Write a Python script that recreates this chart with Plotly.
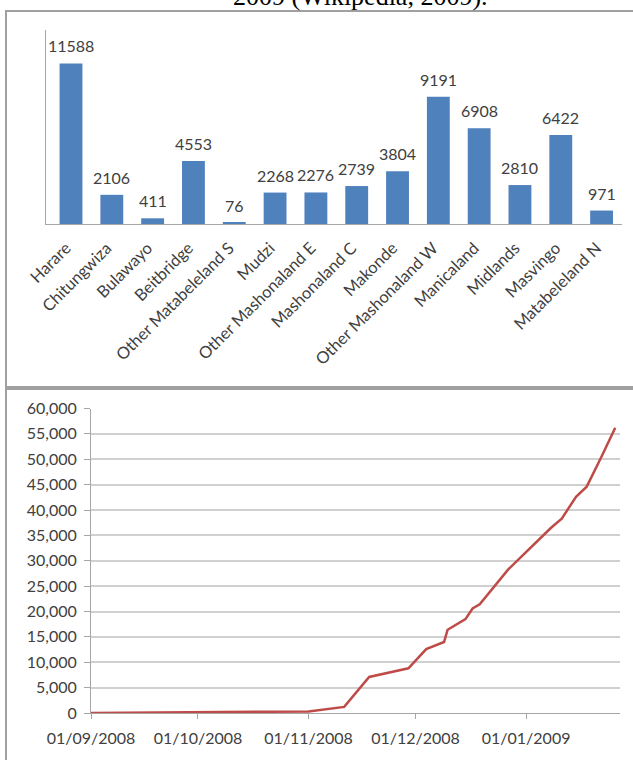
import plotly.graph_objects as go

# ---- data ----
regions = ["Harare", "Chitungwiza", "Bulawayo", "Beitbridge", "Other Matabeleland S",
           "Mudzi", "Other Mashonaland E", "Mashonaland C", "Makonde",
           "Other Mashonaland W", "Manicaland", "Midlands", "Masvingo", "Matabeleland N"]
cases = [11588, 2106, 411, 4553, 76, 2268, 2276, 2739, 3804, 9191, 6908, 2810, 6422, 971]

dates = ["2008-09-01", "2008-10-01", "2008-10-20", "2008-11-01", "2008-11-11",
         "2008-11-18", "2008-11-29", "2008-12-04", "2008-12-09", "2008-12-10",
         "2008-12-15", "2008-12-17", "2008-12-19", "2008-12-27", "2009-01-08",
         "2009-01-10", "2009-01-11", "2009-01-15", "2009-01-18", "2009-01-22",
         "2009-01-26"]
cumulative = [0, 80, 200, 300, 1200,
              7100, 8800, 12600, 14000, 16400,
              18500, 20600, 21400, 28300, 36500,
              37600, 38300, 42600, 44600, 50300,
              56200]

month_ticks = ["2008-09-01", "2008-10-01", "2008-11-01", "2008-12-01", "2009-01-01"]
month_labels = ["01/09/2008", "01/10/2008", "01/11/2008", "01/12/2008", "01/01/2009"]

W, H = 633, 760
def px(x):
    return x / W
def py(y):
    return 1 - y / H

FONT = "Lato"
TXT = "#404040"
AX = "#A6A6A6"

fig = go.Figure()
fig.add_trace(go.Bar(x=regions, y=cases, marker_color="#4F81BD", marker_line_width=0,
                     width=0.56, xaxis="x", yaxis="y", hoverinfo="x+y"))
for r, c in zip(regions, cases):
    fig.add_annotation(x=r, y=c, xref="x", yref="y", text=str(c), showarrow=False,
                       yanchor="bottom", yshift=6,
                       font=dict(family=FONT, size=16, color=TXT))

fig.add_trace(go.Scatter(x=dates, y=cumulative, mode="lines",
                         line=dict(color="#BE4B48", width=2.5),
                         xaxis="x2", yaxis="y2"))

# frames
fig.add_shape(type="rect", xref="paper", yref="paper", x0=px(6), x1=px(650),
              y0=py(387), y1=py(11), line=dict(color="#A0A0A0", width=2), layer="below")
fig.add_shape(type="rect", xref="paper", yref="paper", x0=px(6), x1=px(650),
              y0=py(780), y1=py(389), line=dict(color="#A0A0A0", width=2), layer="below")

fig.add_annotation(xref="paper", yref="paper", x=px(360), y=py(12.5), text="2009 (Wikipedia, 2009).",
                   showarrow=False, yanchor="bottom", xanchor="center",
                   font=dict(family="Liberation Serif", size=26, color="#000000"))

fig.update_layout(
    width=W, height=H, margin=dict(l=0, r=0, t=0, b=0),
    paper_bgcolor="white", plot_bgcolor="white", showlegend=False,
    bargap=0.44,
    xaxis=dict(domain=[px(46), px(622)], anchor="y", showline=True, linecolor=AX, linewidth=1,
               tickangle=-45, tickfont=dict(family=FONT, size=16.5, color=TXT), ticks="",
               showgrid=False, automargin=False, fixedrange=True,
               ticklabelstandoff=7, ticklabelshift=-5),
    yaxis=dict(domain=[py(224), py(30)], range=[0, 14000], showticklabels=False, showline=True,
               linecolor=AX, linewidth=1, showgrid=False, zeroline=False, ticks="",
               automargin=False),
    xaxis2=dict(type="date", domain=[px(91), px(620)], anchor="y2",
                range=["2008-09-01", "2009-01-27 08:00"],
                tickmode="array", tickvals=month_ticks, ticktext=month_labels,
                ticks="outside", ticklen=5, tickcolor=AX, showline=True, linecolor=AX, linewidth=1,
                showgrid=False, tickfont=dict(family=FONT, size=16, color=TXT),
                ticklabelstandoff=6, automargin=False),
    yaxis2=dict(domain=[py(713), py(408.5)], range=[0, 60000], dtick=5000, tickformat=",",
                showgrid=True, gridcolor="#D0D0D0", gridwidth=1.5, showline=True, linecolor=AX,
                linewidth=1, ticks="outside", ticklen=6, tickcolor=AX, zeroline=False,
                tickfont=dict(family=FONT, size=16, color=TXT), ticklabelstandoff=4,
                anchor="x2", automargin=False),
)

fig.write_html("out.html", config={"displayModeBar": False},
               post_script="document.body.style.margin='0';document.body.style.overflow='hidden';")
